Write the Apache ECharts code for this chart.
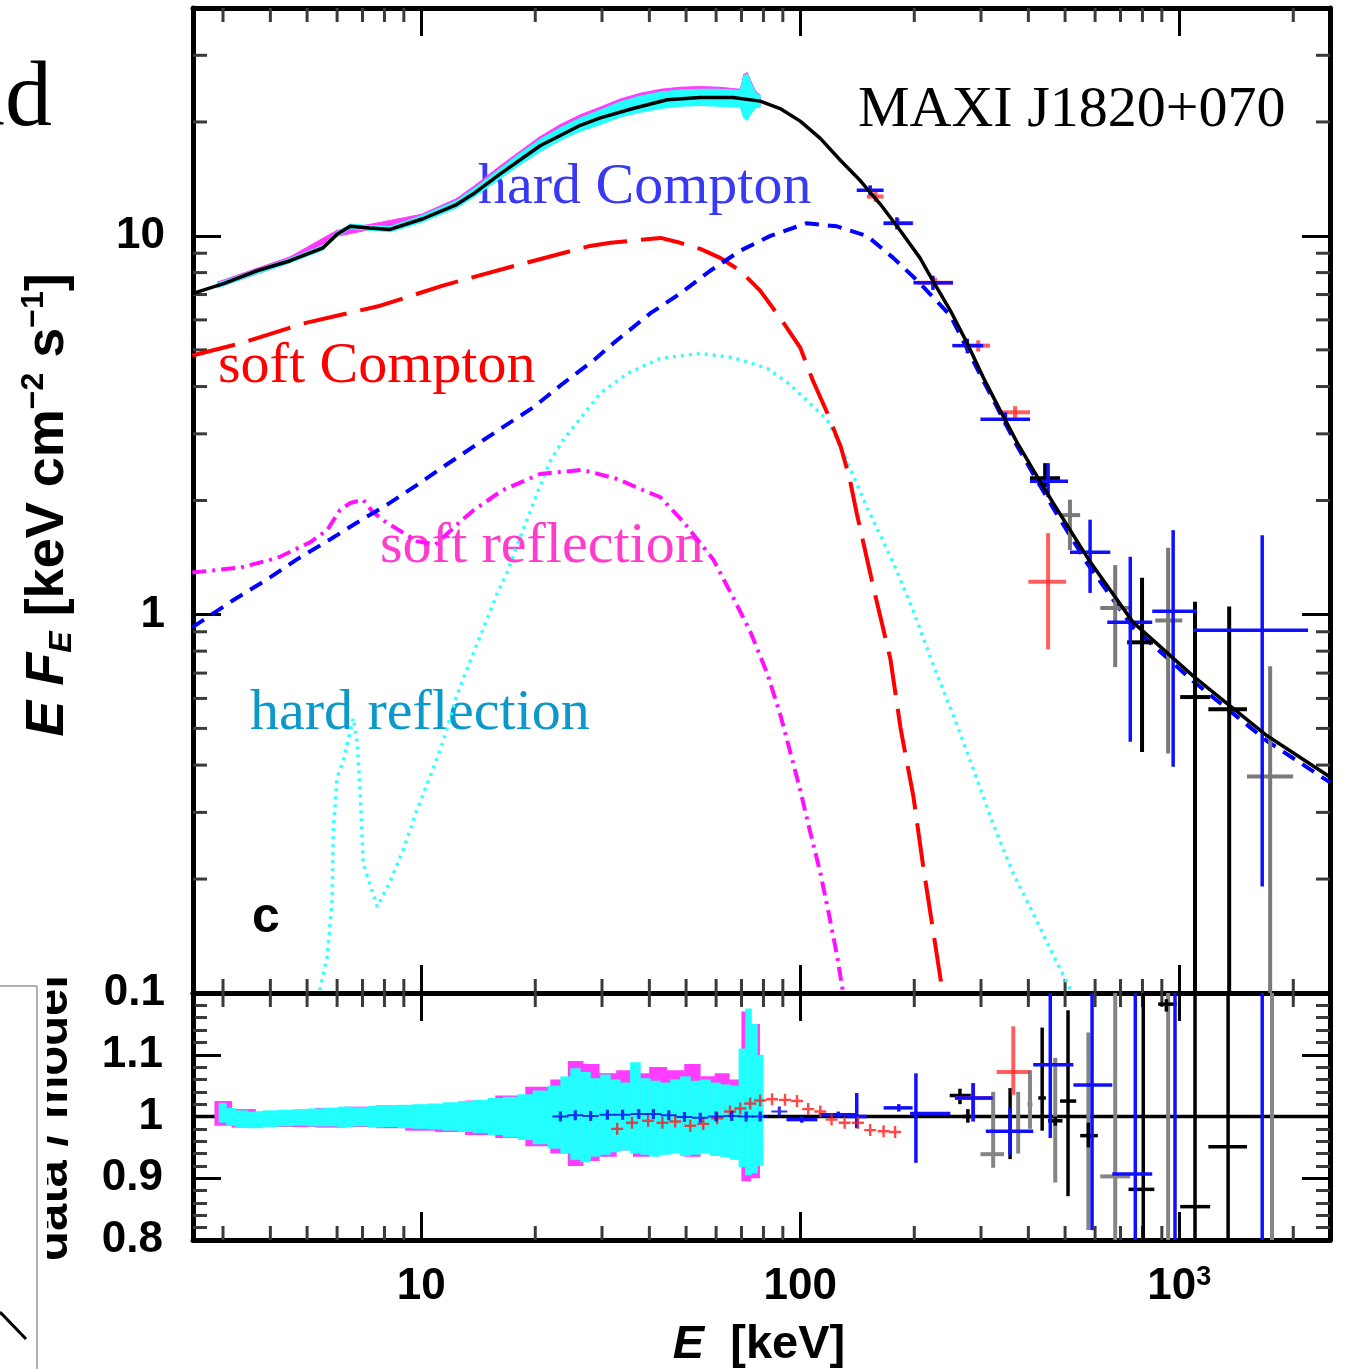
<!DOCTYPE html>
<html>
<head>
<meta charset="utf-8">
<script src="https://cdn.jsdelivr.net/npm/echarts@6/dist/echarts.min.js"></script>
<style>
  html, body { margin: 0; padding: 0; background: #fff; }
  #chart { width: 1348px; height: 1369px; }
</style>
</head>
<body>
<div id="chart"></div>
<script>
// axis ranges
var X_MIN = 2.5, X_MAX = 2500;
var Y_MIN = 0.1, Y_MAX = 40;
var R_MIN = 0.8, R_MAX = 1.2;

var xMinorTicks = [3, 4, 5, 6, 7, 8, 9, 20, 30, 40, 50, 60, 70, 80, 90, 200, 300, 400, 500, 600, 700, 800, 900, 2000];
var yMinorTicks = [0.2, 0.3, 0.4, 0.5, 0.6, 0.7, 0.8, 0.9, 2, 3, 4, 5, 6, 7, 8, 9, 20, 30];

// --- model components (E [keV], E F_E) ---
var totalE = [2.49, 3.01, 3.69, 4.51, 5.51, 6.00, 6.50, 7.30, 8.28, 10.1, 12.4, 13.7, 16.2, 20.6, 26.3, 29.7, 36.2, 44.6, 54.5, 66.5, 78.4, 88.5, 100, 113, 128, 144, 163, 184, 207, 224, 249, 276, 304, 337, 374, 412, 465, 576, 756, 1089, 1706, 2500];
var totalF = [7.04, 7.48, 8.09, 8.60, 9.30, 10.1, 10.6, 10.5, 10.4, 11.1, 12.1, 12.9, 14.6, 17.3, 19.6, 20.5, 21.7, 22.9, 23.2, 23.2, 22.7, 21.7, 20.1, 18.1, 15.8, 14.0, 12.1, 10.3, 8.75, 7.61, 6.35, 5.20, 4.23, 3.46, 2.84, 2.41, 1.97, 1.40, 0.953, 0.687, 0.478, 0.372];

var hardCompE = [2.49, 3.19, 3.93, 4.71, 5.76, 6.78, 8.13, 9.76, 11.4, 13.7, 16.4, 19.8, 23.7, 28.5, 32.1, 40.2, 48.2, 57.9, 69.5, 83.4, 104, 125, 150, 176, 204, 249, 304, 374, 465, 576, 756, 1089, 1706, 2500];
var hardCompF = [0.924, 1.09, 1.24, 1.40, 1.58, 1.75, 1.95, 2.20, 2.45, 2.77, 3.12, 3.53, 4.08, 4.69, 5.20, 6.24, 7.04, 8.09, 9.14, 10.0, 10.8, 10.6, 10.0, 8.75, 7.61, 6.16, 4.15, 2.78, 1.91, 1.35, 0.924, 0.666, 0.463, 0.360];

var softCompE = [2.49, 3.33, 4.89, 7.80, 11.4, 16.9, 27.9, 31.6, 42.8, 48.2, 54.5, 61.5, 69.5, 78.4, 88.5, 100, 108, 118, 128, 135, 141, 156, 173, 184, 199, 211, 225, 237, 245];
var softCompF = [4.83, 5.20, 5.87, 6.54, 7.39, 8.24, 9.41, 9.59, 9.88, 9.59, 9.24, 8.75, 8.09, 7.17, 6.08, 5.07, 4.15, 3.40, 2.77, 2.29, 1.85, 1.18, 0.762, 0.501, 0.330, 0.217, 0.143, 0.102, 0.080];

var hardReflE = [5.35, 5.48, 5.65, 5.82, 5.86, 6.00, 6.22, 6.62, 6.78, 6.91, 7.03, 7.66, 8.28, 8.97, 9.76, 10.6, 11.4, 12.4, 13.5, 14.6, 15.9, 16.9, 18.6, 20.2, 21.9, 23.7, 29.7, 35.0, 42.8, 54.5, 66.5, 81.8, 92.4, 104, 118, 130, 150, 176, 199, 225, 253, 286, 323, 364, 412, 465, 522];
var hardReflF = [0.097, 0.109, 0.125, 0.174, 0.267, 0.370, 0.408, 0.532, 0.458, 0.332, 0.220, 0.169, 0.197, 0.239, 0.305, 0.377, 0.458, 0.608, 0.757, 0.919, 1.14, 1.30, 1.68, 2.08, 2.54, 2.89, 3.84, 4.33, 4.75, 4.89, 4.77, 4.47, 4.10, 3.68, 3.26, 2.67, 1.92, 1.37, 1.02, 0.730, 0.545, 0.391, 0.279, 0.208, 0.162, 0.126, 0.100];

var softReflE = [2.49, 3.33, 4.17, 5.09, 5.65, 6.11, 6.50, 7.03, 7.43, 8.03, 8.65, 9.76, 10.9, 12.7, 13.7, 16.4, 20.6, 26.7, 32.9, 38.5, 42.8, 49.1, 58.9, 66.5, 73.8, 81.8, 88.5, 94.1, 100, 106, 113, 119, 125, 129, 132];
var softReflF = [1.29, 1.33, 1.41, 1.55, 1.67, 1.89, 1.97, 2.01, 1.87, 1.76, 1.68, 1.56, 1.53, 1.76, 1.88, 2.13, 2.35, 2.41, 2.28, 2.13, 2.04, 1.76, 1.40, 1.11, 0.902, 0.700, 0.546, 0.434, 0.344, 0.269, 0.208, 0.162, 0.126, 0.104, 0.090];

// --- dense low-energy data, spectrum panel: [E, low, high] ---
var specCyan = [
  [2.9, 7.28, 7.50], [3.5, 7.80, 8.00], [4.5, 8.48, 8.72], [5.5, 9.17, 9.43], [6.0, 9.95, 10.25],
  [6.5, 10.45, 10.75], [7.3, 10.35, 10.65], [8.3, 10.25, 10.6], [10.0, 10.85, 11.3], [12.4, 11.85, 12.4],
  [14.0, 12.8, 13.5], [16.2, 14.2, 15.1], [18.2, 15.4, 16.5], [20.6, 16.7, 18.0], [23.3, 17.9, 19.3],
  [26.3, 18.9, 20.5], [29.7, 19.7, 21.5], [33.5, 20.6, 22.6], [37.8, 21.2, 23.4], [42.8, 21.7, 24.0],
  [48.2, 22.0, 24.3], [54.5, 22.1, 24.4], [61.5, 22.0, 24.4], [66.5, 21.9, 24.3], [69.5, 21.9, 24.2],
  [71.0, 20.5, 26.5], [72.5, 20.2, 26.8], [74.0, 21.0, 25.5], [76.5, 21.8, 23.8], [78.4, 21.9, 23.5]
];
var specMagenta = [
  [2.9, 7.30, 7.55], [4.5, 8.50, 8.80], [6.0, 9.98, 10.35], [7.3, 10.38, 10.72], [10.0, 10.9, 11.4],
  [12.4, 11.9, 12.55], [14.0, 12.85, 13.7], [16.2, 14.3, 15.35], [20.6, 16.8, 18.3], [23.3, 18.0, 19.7],
  [26.3, 19.0, 20.9], [29.7, 19.8, 21.9], [33.5, 20.7, 23.0], [37.8, 21.3, 23.8], [42.8, 21.8, 24.4],
  [48.2, 22.1, 24.7], [54.5, 22.2, 24.8], [61.5, 22.1, 24.7], [66.5, 22.0, 24.5], [69.5, 22.0, 24.4],
  [71.0, 20.7, 26.7], [72.5, 20.4, 27.0], [74.0, 21.1, 25.7], [76.5, 21.9, 24.0], [78.4, 22.0, 23.6]
];

// --- high-energy data points, spectrum panel: [E, Elo, Ehi, F, Flo, Fhi] ---
var specRed = [
  [158, 150, 166, 12.7, 12.3, 13.1], [181, 166, 199, 10.8, 10.5, 11.1], [227, 204, 253, 7.52, 7.3, 7.75],
  [295, 276, 317, 5.13, 4.95, 5.3], [369, 337, 404, 3.42, 3.3, 3.55], [451, 400, 503, 1.22, 0.809, 1.64]
];
var specBlue = [
  [153, 141, 166, 13.2, 12.8, 13.6], [180, 166, 198, 10.8, 10.4, 11.2], [224, 199, 253, 7.52, 7.2, 7.85],
  [276, 252, 304, 5.13, 4.9, 5.35], [348, 299, 404, 3.28, 3.15, 3.42], [451, 404, 509, 2.25, 2.04, 2.51],
  [582, 515, 658, 1.46, 1.14, 1.78], [743, 646, 849, 0.953, 0.461, 1.42], [964, 849, 1114, 1.02, 0.396, 1.67],
  [1656, 1089, 2188, 0.908, 0.191, 1.62]
];
var specBlack = [
  [443, 404, 485, 2.29, 2.17, 2.51], [798, 729, 853, 0.844, 0.433, 1.25],
  [1101, 1006, 1207, 0.605, 0.01, 1.08], [1355, 1194, 1510, 0.562, 0.01, 1.05]
];
var specGrey = [
  [515, 485, 548, 1.83, 1.48, 2.01], [678, 619, 743, 1.04, 0.726, 1.35],
  [935, 865, 1019, 0.964, 0.429, 1.50], [1738, 1510, 1999, 0.373, 0.01, 0.730]
];

// --- residuals: dense bands [E, low, high] ---
var ratioCyan = [
  [2.99, 0.990, 1.022], [3.13, 0.985, 1.014], [3.33, 0.982, 1.010], [3.65, 0.981, 1.008], [4.00, 0.983, 1.010],
  [4.38, 0.984, 1.011], [4.80, 0.985, 1.012], [5.25, 0.984, 1.013], [5.76, 0.984, 1.014], [6.30, 0.983, 1.016],
  [6.91, 0.984, 1.015], [7.56, 0.982, 1.017], [8.28, 0.983, 1.018], [9.07, 0.981, 1.019], [9.94, 0.980, 1.020],
  [10.9, 0.979, 1.021], [11.9, 0.977, 1.023], [13.1, 0.975, 1.025], [14.3, 0.973, 1.027], [15.7, 0.970, 1.030],
  [17.2, 0.966, 1.032], [18.8, 0.962, 1.036], [20.6, 0.955, 1.042], [22.6, 0.948, 1.050], [24.0, 0.940, 1.065],
  [25.5, 0.930, 1.078], [27.1, 0.926, 1.072], [28.8, 0.935, 1.062], [30.6, 0.938, 1.068], [32.5, 0.942, 1.060],
  [34.5, 0.945, 1.055], [36.7, 0.940, 1.088], [39.0, 0.938, 1.062], [41.4, 0.935, 1.058], [44.0, 0.938, 1.055],
  [46.8, 0.940, 1.060], [49.7, 0.936, 1.065], [52.9, 0.938, 1.058], [56.1, 0.940, 1.060], [59.7, 0.936, 1.055],
  [63.4, 0.934, 1.052], [67.3, 0.930, 1.050], [70.3, 0.918, 1.110], [72.9, 0.905, 1.175], [75.7, 0.908, 1.150],
  [78.4, 0.920, 1.100]
];
var ratioMagenta = [
  [3.0, 0.985, 1.025], [3.33, 0.982, 1.012], [4.0, 0.983, 1.008], [4.8, 0.983, 1.010], [5.76, 0.982, 1.014],
  [6.91, 0.983, 1.016], [8.28, 0.981, 1.018], [9.94, 0.977, 1.018], [11.9, 0.975, 1.020], [14.3, 0.970, 1.026],
  [17.2, 0.965, 1.034], [20.6, 0.952, 1.048], [23.3, 0.940, 1.060], [25.5, 0.920, 1.090], [28.0, 0.928, 1.085],
  [31.0, 0.935, 1.070], [34.5, 0.945, 1.075], [38.0, 0.935, 1.070], [42.0, 0.940, 1.080], [47.0, 0.942, 1.075],
  [52.0, 0.935, 1.085], [57.0, 0.945, 1.065], [62.0, 0.940, 1.070], [68.0, 0.935, 1.060], [72.0, 0.895, 1.170],
  [76.0, 0.900, 1.150]
];

// residual points without visible error bars: [E, ratio]
var ratioRedSmall = [
  [32.9, 0.980], [36.0, 0.990], [39.7, 0.993], [43.3, 0.990], [46.8, 0.992], [51.3, 0.985], [55.5, 0.988],
  [60.4, 0.997], [65.3, 1.008], [69.5, 1.013], [73.8, 1.021], [78.4, 1.026], [84.3, 1.028], [91.2, 1.027],
  [98.1, 1.025], [105, 1.012], [113, 1.008], [121, 0.995], [131, 0.990], [142, 0.990], [153, 0.978],
  [166, 0.976], [178, 0.975]
];
var ratioBlueSmall = [
  [23.3, 1.000], [25.5, 1.002], [28.0, 1.001], [31.0, 1.003], [34.0, 1.003], [37.5, 1.004], [41.0, 1.004],
  [45.0, 1.002], [49.5, 0.999], [54.5, 0.998], [60.0, 1.000], [66.0, 1.001], [72.0, 1.000], [78.4, 1.000],
  [88.1, 1.008]
];

// residual points with error bars: [E, Elo, Ehi, ratio, lo, hi]
var ratioRed = [
  [365, 330, 404, 1.072, 1.035, 1.146], [286, 256, 322, 1.030, 0.992, 1.054]
];
var ratioBlue = [
  [101, 92, 111, 0.995, 0.990, 1.000], [126, 112, 141, 1.003, 0.998, 1.008], [141, 133, 150, 1.000, 0.981, 1.038],
  [182, 166, 198, 1.014, 1.008, 1.020], [202, 195, 249, 1.005, 0.925, 1.070], [286, 256, 322, 1.030, 0.992, 1.054],
  [358, 309, 412, 0.976, 0.938, 1.014], [457, 412, 526, 1.084, 0.965, 1.25], [589, 526, 666, 1.051, 0.816, 1.25],
  [766, 666, 849, 0.907, 0.75, 1.25], [975, 860, 1100, 1.30, 0.75, 1.35], [1656, 1500, 1800, 1.30, 0.75, 1.35]
];
var ratioBlack = [
  [264, 248, 282, 1.034, 1.020, 1.045], [277, 268, 288, 1.000, 0.990, 1.012], [358, 355, 361, 0.985, 0.931, 1.046],
  [435, 425, 445, 1.030, 0.977, 1.144], [471, 451, 492, 0.993, 0.985, 1.000], [509, 485, 535, 1.025, 0.871, 1.172],
  [576, 548, 610, 0.969, 0.950, 0.990], [804, 735, 860, 0.882, 0.75, 1.25], [925, 880, 985, 1.182, 1.170, 1.190],
  [1101, 1006, 1207, 0.854, 0.75, 1.25], [1346, 1194, 1510, 0.951, 0.75, 1.25]
];
var ratioGrey = [
  [323, 299, 345, 0.939, 0.917, 1.040], [376, 372, 380, 0.990, 0.940, 1.040], [404, 398, 410, 1.020, 0.980, 1.075],
  [471, 465, 477, 0.993, 0.893, 1.095], [576, 570, 582, 0.969, 0.816, 1.136], [678, 619, 743, 0.903, 0.75, 1.25],
  [935, 900, 970, 1.30, 0.75, 1.35], [1758, 1600, 1900, 1.30, 0.75, 1.35]
];

var SANS = '"Liberation Sans", Arial, sans-serif';
var SERIF = '"Liberation Serif", "Times New Roman", serif';

function pairs(xs, ys) {
  return xs.map(function (x, i) { return [x, ys[i]]; });
}
function clamp(v, a, b) { return Math.max(a, Math.min(b, v)); }

// minor tick marks for the log axes, placed through the axis scale
function xMinorRender(params, api) {
  var cs = params.coordSys;
  var x = api.coord([api.value(0), api.value(1)])[0];
  if (x <= cs.x + 3 || x >= cs.x + cs.width - 3) return null;
  var st = { stroke: '#3a3a3a', lineWidth: 3 };
  return { type: 'group', children: [
    { type: 'line', shape: { x1: x, y1: cs.y, x2: x, y2: cs.y + 14 }, style: st },
    { type: 'line', shape: { x1: x, y1: cs.y + cs.height, x2: x, y2: cs.y + cs.height - 14 }, style: st }
  ] };
}
function yMinorRender(params, api) {
  var cs = params.coordSys;
  var y = api.coord([api.value(0), api.value(1)])[1];
  if (y <= cs.y + 3 || y >= cs.y + cs.height - 3) return null;
  var st = { stroke: '#3a3a3a', lineWidth: 3 };
  return { type: 'group', children: [
    { type: 'line', shape: { x1: cs.x, y1: y, x2: cs.x + 14, y2: y }, style: st },
    { type: 'line', shape: { x1: cs.x + cs.width, y1: y, x2: cs.x + cs.width - 14, y2: y }, style: st }
  ] };
}

// error-bar crosses
function crossRender(color, lw) {
  return function (params, api) {
    var cs = params.coordSys;
    var c = api.coord([api.value(0), api.value(3)]);
    var l = api.coord([api.value(1), api.value(3)]);
    var r = api.coord([api.value(2), api.value(3)]);
    var lo = api.coord([api.value(0), api.value(4)]);
    var hi = api.coord([api.value(0), api.value(5)]);
    var top = cs.y, bot = cs.y + cs.height;
    var y1 = clamp(hi[1], top, bot), y2 = clamp(lo[1], top, bot);
    var kids = [];
    if (y2 - y1 > 0.5) {
      kids.push({ type: 'line', shape: { x1: c[0], y1: y1, x2: c[0], y2: y2 }, style: { stroke: color, lineWidth: lw } });
    }
    if (c[1] > top + 2 && c[1] < bot - 2) {
      kids.push({ type: 'line', shape: { x1: clamp(l[0], cs.x, cs.x + cs.width), y1: c[1], x2: clamp(r[0], cs.x, cs.x + cs.width), y2: c[1] },
        style: { stroke: color, lineWidth: lw } });
    }
    return { type: 'group', children: kids };
  };
}

// dense data drawn as a stepped band (residual panel)
function stepBandRender(color) {
  return function (params, api) {
    var i = params.dataIndexInside, n = params.dataInsideLength;
    var x = api.coord([api.value(0), api.value(1)])[0];
    var xp = i > 0 ? api.coord([api.value(0, i - 1), api.value(1)])[0] : null;
    var xn = i < n - 1 ? api.coord([api.value(0, i + 1), api.value(1)])[0] : null;
    var x0 = xp === null ? x - (xn - x) / 2 : (xp + x) / 2;
    var x1 = xn === null ? x + (x - xp) / 2 : (x + xn) / 2;
    var lo = api.coord([api.value(0), api.value(1)])[1];
    var hi = api.coord([api.value(0), api.value(2)])[1];
    return { type: 'rect', shape: { x: x0, y: hi, width: x1 - x0 + 0.5, height: lo - hi }, style: { fill: color } };
  };
}
// dense data drawn as a smooth band between successive points (spectrum panel)
function polyBandRender(color) {
  return function (params, api) {
    var i = params.dataIndexInside, n = params.dataInsideLength;
    if (i >= n - 1) return null;
    var a0 = api.coord([api.value(0, i), api.value(1, i)]);
    var a1 = api.coord([api.value(0, i), api.value(2, i)]);
    var b0 = api.coord([api.value(0, i + 1), api.value(1, i + 1)]);
    var b1 = api.coord([api.value(0, i + 1), api.value(2, i + 1)]);
    return { type: 'polygon', shape: { points: [a1, b1, b0, a0] }, style: { fill: color, stroke: color, lineWidth: 1 } };
  };
}

var axisLineStyle = { show: true, onZero: false, lineStyle: { color: '#000', width: 5 } };
var majorTick = { show: true, inside: true, length: 28, lineStyle: { color: '#000', width: 3 } };
var labelFont = { color: '#000', fontFamily: SANS, fontWeight: 'bold', fontSize: 44 };

function logX(grid, pos, labels) {
  return {
    type: 'log', logBase: 10, gridIndex: grid, position: pos, min: X_MIN, max: X_MAX,
    axisLine: axisLineStyle, axisTick: majorTick, splitLine: { show: false },
    axisLabel: Object.assign({
      show: labels, margin: 24, showMinLabel: false, showMaxLabel: false,
      formatter: function (v) {
        var l = Math.log10(v);
        if (Math.abs(l - Math.round(l)) > 1e-6) return '';
        return Math.round(l) === 3 ? '10{sup|3}' : String(Math.round(v));
      },
      rich: { sup: { fontFamily: SANS, fontWeight: 'bold', fontSize: 27, verticalAlign: 'top', lineHeight: 27 } },
      lineHeight: 46
    }, labelFont)
  };
}
function logY(grid, pos, labels) {
  return {
    type: 'log', logBase: 10, gridIndex: grid, position: pos, min: Y_MIN, max: Y_MAX,
    axisLine: axisLineStyle, axisTick: majorTick, splitLine: { show: false },
    axisLabel: Object.assign({
      show: labels, margin: 28,
      formatter: function (v) {
        var l = Math.log10(v);
        if (Math.abs(l - Math.round(l)) > 1e-3) return '';
        return v < 0.5 ? '0.1' : String(Math.round(v));
      }
    }, labelFont)
  };
}
function ratioY(pos, labels) {
  return {
    type: 'value', gridIndex: 1, position: pos, min: R_MIN, max: R_MAX, interval: 0.1,
    axisLine: axisLineStyle, axisTick: majorTick, splitLine: { show: false },
    minorTick: { show: true, splitNumber: 5, length: 14, lineStyle: { color: '#3a3a3a', width: 3 } },
    minorSplitLine: { show: false },
    axisLabel: Object.assign({
      show: labels, margin: 30,
      formatter: function (v) {
        if (v > 1.15) return '';
        return Math.abs(v - 1) < 1e-6 ? '1' : v.toFixed(1);
      }
    }, labelFont)
  };
}

function modelLine(name, xs, ys, color, width, dash, z) {
  return {
    name: name, type: 'line', xAxisIndex: 0, yAxisIndex: 0, data: pairs(xs, ys),
    symbol: 'none', smooth: false, clip: true, silent: true, z: z,
    lineStyle: { color: color, width: width, type: dash, cap: 'butt' }
  };
}
function customSeries(xi, yi, data, render, z, dims) {
  return { type: 'custom', xAxisIndex: xi, yAxisIndex: yi, data: data, renderItem: render,
    silent: true, clip: true, z: z, encode: { x: 0, y: dims } };
}

var chart = echarts.init(document.getElementById('chart'), null, { renderer: 'canvas' });
chart.setOption({
  animation: false,
  backgroundColor: '#fff',
  textStyle: { fontFamily: SANS },
  grid: [
    { left: 193, top: 8, width: 1137, height: 985, containLabel: false, outerBoundsMode: 'none' },
    { left: 193, top: 993, width: 1137, height: 247, containLabel: false, outerBoundsMode: 'none' }
  ],
  xAxis: [logX(0, 'bottom', false), logX(0, 'top', false), logX(1, 'bottom', true), logX(1, 'top', false)],
  yAxis: [logY(0, 'left', true), logY(0, 'right', false), ratioY('left', true), ratioY('right', false)],
  series: [
    // spectrum panel
    customSeries(0, 0, xMinorTicks.map(function (v) { return [v, 1]; }), xMinorRender, 1, 1),
    customSeries(0, 0, yMinorTicks.map(function (v) { return [10, v]; }), yMinorRender, 1, 1),
    customSeries(0, 0, specMagenta, polyBandRender('#ff3cff'), 2, [1, 2]),
    customSeries(0, 0, specCyan, polyBandRender('#22ffff'), 3, [1, 2]),
    modelLine('hard reflection', hardReflE, hardReflF, '#33ffff', 3.5, [3, 5], 4),
    modelLine('soft reflection', softReflE, softReflF, '#ff11ff', 4, [14, 6, 3, 6], 4),
    modelLine('soft Compton', softCompE, softCompF, '#ff0000', 4, [44, 14], 4),
    modelLine('hard Compton', hardCompE, hardCompF, '#0000ff', 4, [14, 9], 5),
    customSeries(0, 0, specGrey, crossRender('#7a7a7a', 4), 6, [3, 4, 5]),
    customSeries(0, 0, specBlack, crossRender('#000000', 4), 6, [3, 4, 5]),
    customSeries(0, 0, specRed, crossRender('rgba(255,40,40,0.75)', 4), 6, [3, 4, 5]),
    customSeries(0, 0, specBlue, crossRender('#1010ff', 3.5), 6, [3, 4, 5]),
    modelLine('total', totalE, totalF, '#000000', 3.5, 'solid', 7),

    // ratio panel
    customSeries(2, 2, xMinorTicks.map(function (v) { return [v, 1]; }), xMinorRender, 1, 1),
    {
      type: 'line', xAxisIndex: 2, yAxisIndex: 2, data: [[X_MIN, 1], [X_MAX, 1]], symbol: 'none',
      silent: true, z: 1, lineStyle: { color: '#000', width: 3.5 }
    },
    customSeries(2, 2, ratioMagenta, stepBandRender('#ff3cff'), 2, [1, 2]),
    customSeries(2, 2, ratioCyan, stepBandRender('#22ffff'), 3, [1, 2]),
    customSeries(2, 2, ratioGrey, crossRender('#858585', 4), 4, [3, 4, 5]),
    customSeries(2, 2, ratioBlack, crossRender('#000000', 3.5), 4, [3, 4, 5]),
    customSeries(2, 2, ratioRed, crossRender('rgba(255,40,40,0.75)', 4), 5, [3, 4, 5]),
    customSeries(2, 2, ratioBlue, crossRender('#1010ff', 3.5), 5, [3, 4, 5]),
    {
      type: 'scatter', xAxisIndex: 2, yAxisIndex: 2, data: ratioRedSmall, silent: true, z: 6,
      symbol: 'path://M0,4H10V6H0ZM4,0H6V10H4Z', symbolSize: [12, 12], itemStyle: { color: '#ff1a1a' }
    },
    {
      type: 'scatter', xAxisIndex: 2, yAxisIndex: 2, data: ratioBlueSmall, silent: true, z: 6,
      symbol: 'path://M0,4H10V6H0ZM4,0H6V10H4Z', symbolSize: [16, 10], itemStyle: { color: '#0000ee' }
    }
  ],
  graphic: [
    // remnants of the neighbouring panel on the left
    { type: 'text', x: 52, y: 100, style: { text: 'and', font: '94px ' + SERIF, fill: '#000', align: 'right', verticalAlign: 'middle' } },
    { type: 'text', x: 53, y: 1118, rotation: Math.PI / 2,
      style: { text: 'data / model', fontFamily: SANS, fontWeight: 'bold', fontSize: 49, fill: '#000', align: 'center', verticalAlign: 'middle' } },
    { type: 'rect', shape: { x: 0, y: 960, width: 47, height: 330 }, style: { fill: '#fff' } },
    { type: 'line', shape: { x1: 0, y1: 986, x2: 37, y2: 986 }, style: { stroke: '#999', lineWidth: 1.5 } },
    { type: 'line', shape: { x1: 37, y1: 986, x2: 37, y2: 1369 }, style: { stroke: '#999', lineWidth: 1.5 } },
    { type: 'line', shape: { x1: 0, y1: 1312, x2: 26, y2: 1339 }, style: { stroke: '#000', lineWidth: 3 } },

    // axis titles
    { type: 'text', x: 48, y: 505, rotation: Math.PI / 2,
      style: {
        text: '{i|E F}{sub|E} [keV cm{sup|\u22122} s{sup|\u22121}]',
        fontFamily: SANS, fontWeight: 'bold', fontSize: 54, lineHeight: 60, fill: '#000', align: 'center', verticalAlign: 'middle',
        rich: {
          i: { fontFamily: SANS, fontWeight: 'bold', fontStyle: 'italic', fontSize: 54, lineHeight: 60 },
          sub: { fontFamily: SANS, fontWeight: 'bold', fontStyle: 'italic', fontSize: 32, lineHeight: 32, verticalAlign: 'bottom' },
          sup: { fontFamily: SANS, fontWeight: 'bold', fontSize: 32, lineHeight: 32, verticalAlign: 'top' }
        }
      } },
    { type: 'text', x: 759, y: 1345,
      style: {
        text: '{i|E}  [keV]', fontFamily: SANS, fontWeight: 'bold', fontSize: 47, fill: '#000', align: 'center', verticalAlign: 'middle',
        rich: { i: { fontFamily: SANS, fontWeight: 'bold', fontStyle: 'italic', fontSize: 47 } }
      } },

    // annotations
    { type: 'text', x: 858, y: 111, style: { text: 'MAXI J1820+070', font: '58px ' + SERIF, fill: '#000', verticalAlign: 'middle' } },
    { type: 'text', x: 478, y: 188, style: { text: 'hard Compton', font: '58px ' + SERIF, fill: '#3838f5', verticalAlign: 'middle' } },
    { type: 'text', x: 218, y: 367, style: { text: 'soft Compton', font: '58px ' + SERIF, fill: '#ff0000', verticalAlign: 'middle' } },
    { type: 'text', x: 380, y: 547, style: { text: 'soft reflection', font: '58px ' + SERIF, fill: '#ff3ccc', verticalAlign: 'middle' } },
    { type: 'text', x: 250, y: 714, style: { text: 'hard reflection', font: '58px ' + SERIF, fill: '#0a99c8', verticalAlign: 'middle' } },
    { type: 'text', x: 266, y: 918, style: { text: 'c', fontFamily: SANS, fontWeight: 'bold', fontSize: 50, fill: '#000', align: 'center', verticalAlign: 'middle' } }
  ]
});
</script>
</body>
</html>
